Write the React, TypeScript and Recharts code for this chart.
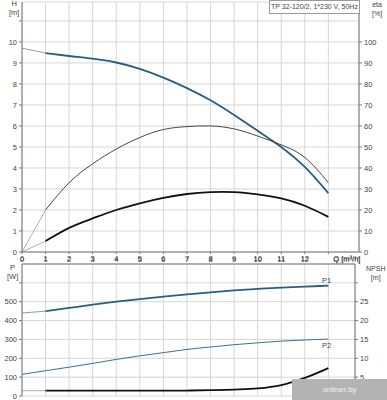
import { ComposedChart, Line, XAxis, YAxis, CartesianGrid } from 'recharts';

// flow Q [m³/h]
const q = [0, 1, 2, 3, 4, 5, 6, 7, 8, 9, 10, 11, 12, 13];

// top chart
const head = [9.7, 9.47, 9.33, 9.2, 9.02, 8.72, 8.3, 7.8, 7.22, 6.52, 5.77, 5.0, 4.05, 2.8];
const etaPump = [0, 20, 33, 42, 49, 54.5, 58.3, 59.7, 60, 58.6, 55.2, 51, 45, 33];
const etaTotal = [0, 5.2, 11.5, 16, 20, 23.2, 25.8, 27.6, 28.5, 28.5, 27.4, 25.5, 22, 16.7];

// bottom chart
const p1 = [440, 450, 467, 484, 500, 514, 527, 539, 550, 560, 568, 575, 580, 585];
const p2 = [115, 134, 153, 173, 194, 213, 230, 247, 260, 272, 282, 291, 297, 302];
const npsh = [1.4, 1.4, 1.4, 1.4, 1.4, 1.4, 1.42, 1.45, 1.55, 1.7, 2.0, 2.9, 4.8, 7.4];

const xTicks = [0, 1, 2, 3, 4, 5, 6, 7, 8, 9, 10, 11, 12, 13];
const hTicks = [0, 1, 2, 3, 4, 5, 6, 7, 8, 9, 10, 11];
const etaTicks = [0, 10, 20, 30, 40, 50, 60, 70, 80, 90, 100];
const pTicks = [0, 100, 200, 300, 400, 500, 600];
const npshTicks = [5, 10, 15, 20, 25, 30];

const title = 'TP 32-120/2, 1*230 V, 50Hz';

const FONT = 'Liberation Sans, Arial, sans-serif';
const GRID = '#d6d6d6';
const AXIS = '#777';
const BLUE = '#2b5d82';
const TXT = '#444';

const lead = (arr: number[], i: number) => (i <= 1 ? arr[i] : undefined);
const main = (arr: number[], i: number) => (i >= 1 ? arr[i] : undefined);

const topData = q.map((v, i) => ({
  q: v,
  head: main(head, i),
  headLead: lead(head, i),
  etaPump: main(etaPump, i),
  etaPumpLead: lead(etaPump, i),
  etaTotal: main(etaTotal, i),
  etaTotalLead: lead(etaTotal, i),
}));

const bottomData = q.map((v, i) => ({
  q: v,
  p1: main(p1, i),
  p1Lead: lead(p1, i),
  p2: p2[i],
  npsh: main(npsh, i),
  npshLead: lead(npsh, i),
}));

const tickStyle = { fontSize: 7.5, fill: TXT, fontFamily: FONT };

function QTick(props: any) {
  const { x, y, payload, top } = props;
  const yy = top ? y - 1 : y + 6;
  if (payload.value === 13) {
    return (
      <text x={x + 5} y={yy} textAnchor="start" {...tickStyle}>
        Q [m³/h]
      </text>
    );
  }
  return (
    <text x={x} y={yy} textAnchor="middle" {...tickStyle}>
      {payload.value}
    </text>
  );
}

const smooth = { isAnimationActive: false, dot: false, activeDot: false, type: 'natural' as const };
const mono = { isAnimationActive: false, dot: false, activeDot: false, type: 'monotone' as const };

export default function App() {
  return (
    <div style={{ position: 'absolute', left: 0, top: 0, width: 387, height: 400, background: '#fff', fontFamily: FONT, overflow: 'hidden' }}>
      <div style={{ position: 'absolute', left: 0, top: 0 }}>
        <ComposedChart width={387} height={264} data={topData} margin={{ top: 2, right: 0, bottom: 0, left: 0 }}>
          <CartesianGrid stroke={GRID} strokeWidth={1} yAxisId="h" />
          <XAxis
            dataKey="q"
            type="number"
            domain={[0, 14.3]}
            ticks={xTicks}
            height={12}
            stroke={AXIS}
            tickSize={2}
            tick={<QTick />}
            interval={0}
          />
          <YAxis
            yAxisId="h"
            type="number"
            domain={[0, 11.9]}
            ticks={hTicks}
            width={22}
            stroke={AXIS}
            tickSize={3}
            tick={tickStyle}
            tickFormatter={(v: number) => (v === 11 ? '' : String(v))}
            interval={0}
          />
          <YAxis
            yAxisId="eta"
            orientation="right"
            type="number"
            domain={[0, 119]}
            ticks={etaTicks}
            width={28}
            stroke={AXIS}
            tickSize={3}
            tick={tickStyle}
            interval={0}
          />
          <Line {...smooth} yAxisId="h" dataKey="headLead" stroke="#8aa3b5" strokeWidth={1} />
          <Line {...smooth} yAxisId="h" dataKey="head" stroke={BLUE} strokeWidth={1.8} />
          <Line {...smooth} yAxisId="eta" dataKey="etaPumpLead" stroke="#999" strokeWidth={0.8} />
          <Line {...smooth} yAxisId="eta" dataKey="etaPump" stroke="#333" strokeWidth={0.9} />
          <Line {...smooth} yAxisId="eta" dataKey="etaTotalLead" stroke="#999" strokeWidth={0.8} />
          <Line {...smooth} yAxisId="eta" dataKey="etaTotal" stroke="#111" strokeWidth={1.8} />
        </ComposedChart>
      </div>

      <div style={{ position: 'absolute', left: 0, top: 252 }}>
        <ComposedChart width={387} height={148} data={bottomData} margin={{ top: 0, right: 0, bottom: 4, left: 0 }}>
          <CartesianGrid stroke={GRID} strokeWidth={1} yAxisId="p" />
          <XAxis
            dataKey="q"
            type="number"
            orientation="top"
            domain={[0, 14.13]}
            ticks={xTicks}
            height={12}
            stroke={AXIS}
            tickSize={0}
            tick={<QTick top />}
            interval={0}
          />
          <YAxis
            yAxisId="p"
            type="number"
            domain={[0, 700]}
            ticks={pTicks}
            width={22}
            stroke={AXIS}
            tickSize={3}
            tick={tickStyle}
            tickFormatter={(v: number) => (v === 600 ? '' : String(v))}
            interval={0}
          />
          <YAxis
            yAxisId="npsh"
            orientation="right"
            type="number"
            domain={[0, 35]}
            ticks={npshTicks}
            width={32}
            stroke={AXIS}
            tickSize={3}
            tick={tickStyle}
            tickFormatter={(v: number) => (v === 30 ? '' : String(v))}
            interval={0}
          />
          <Line {...smooth} yAxisId="p" dataKey="p1Lead" stroke="#7f9db3" strokeWidth={1} />
          <Line {...smooth} yAxisId="p" dataKey="p1" stroke={BLUE} strokeWidth={1.8} />
          <Line {...smooth} yAxisId="p" dataKey="p2" stroke="#3f6f92" strokeWidth={1} />
          <Line {...mono} yAxisId="npsh" dataKey="npshLead" stroke="#999" strokeWidth={0.8} />
          <Line {...mono} yAxisId="npsh" dataKey="npsh" stroke="#111" strokeWidth={1.8} />
        </ComposedChart>
      </div>

      {/* axis captions */}
      <div style={{ position: 'absolute', left: 9, top: -1, fontSize: 7.5, color: TXT, lineHeight: '9px', textAlign: 'center' }}>
        H<br />[m]
      </div>
      <div style={{ position: 'absolute', left: 372, top: 0, fontSize: 7, color: TXT, lineHeight: '9px', textAlign: 'center' }}>
        eta<br />[%]
      </div>
      <div style={{ position: 'absolute', left: 7, top: 263, fontSize: 7.5, color: TXT, lineHeight: '9px', textAlign: 'center' }}>
        P<br />[W]
      </div>
      <div style={{ position: 'absolute', left: 366, top: 264, fontSize: 7, color: TXT, lineHeight: '9px', textAlign: 'center' }}>
        NPSH<br />[m]
      </div>
      <div style={{ position: 'absolute', left: 322, top: 276, fontSize: 7.5, color: TXT }}>P1</div>
      <div style={{ position: 'absolute', left: 322, top: 341, fontSize: 7.5, color: TXT }}>P2</div>

      {/* title box */}
      <div
        style={{
          position: 'absolute',
          left: 269,
          top: 0,
          width: 89,
          height: 12,
          border: '1px solid #999',
          background: '#fff',
          fontSize: 7,
          color: TXT,
          lineHeight: '12px',
          textAlign: 'center',
          whiteSpace: 'nowrap',
        }}
      >
        {title}
      </div>

      {/* watermark */}
      <div
        style={{
          position: 'absolute',
          left: 292,
          top: 379,
          width: 95,
          height: 21,
          background: '#b3b3b3',
          color: '#f2f2f2',
          fontSize: 8,
          lineHeight: '21px',
          textAlign: 'center',
        }}
      >
        onliner.by
      </div>
    </div>
  );
}
